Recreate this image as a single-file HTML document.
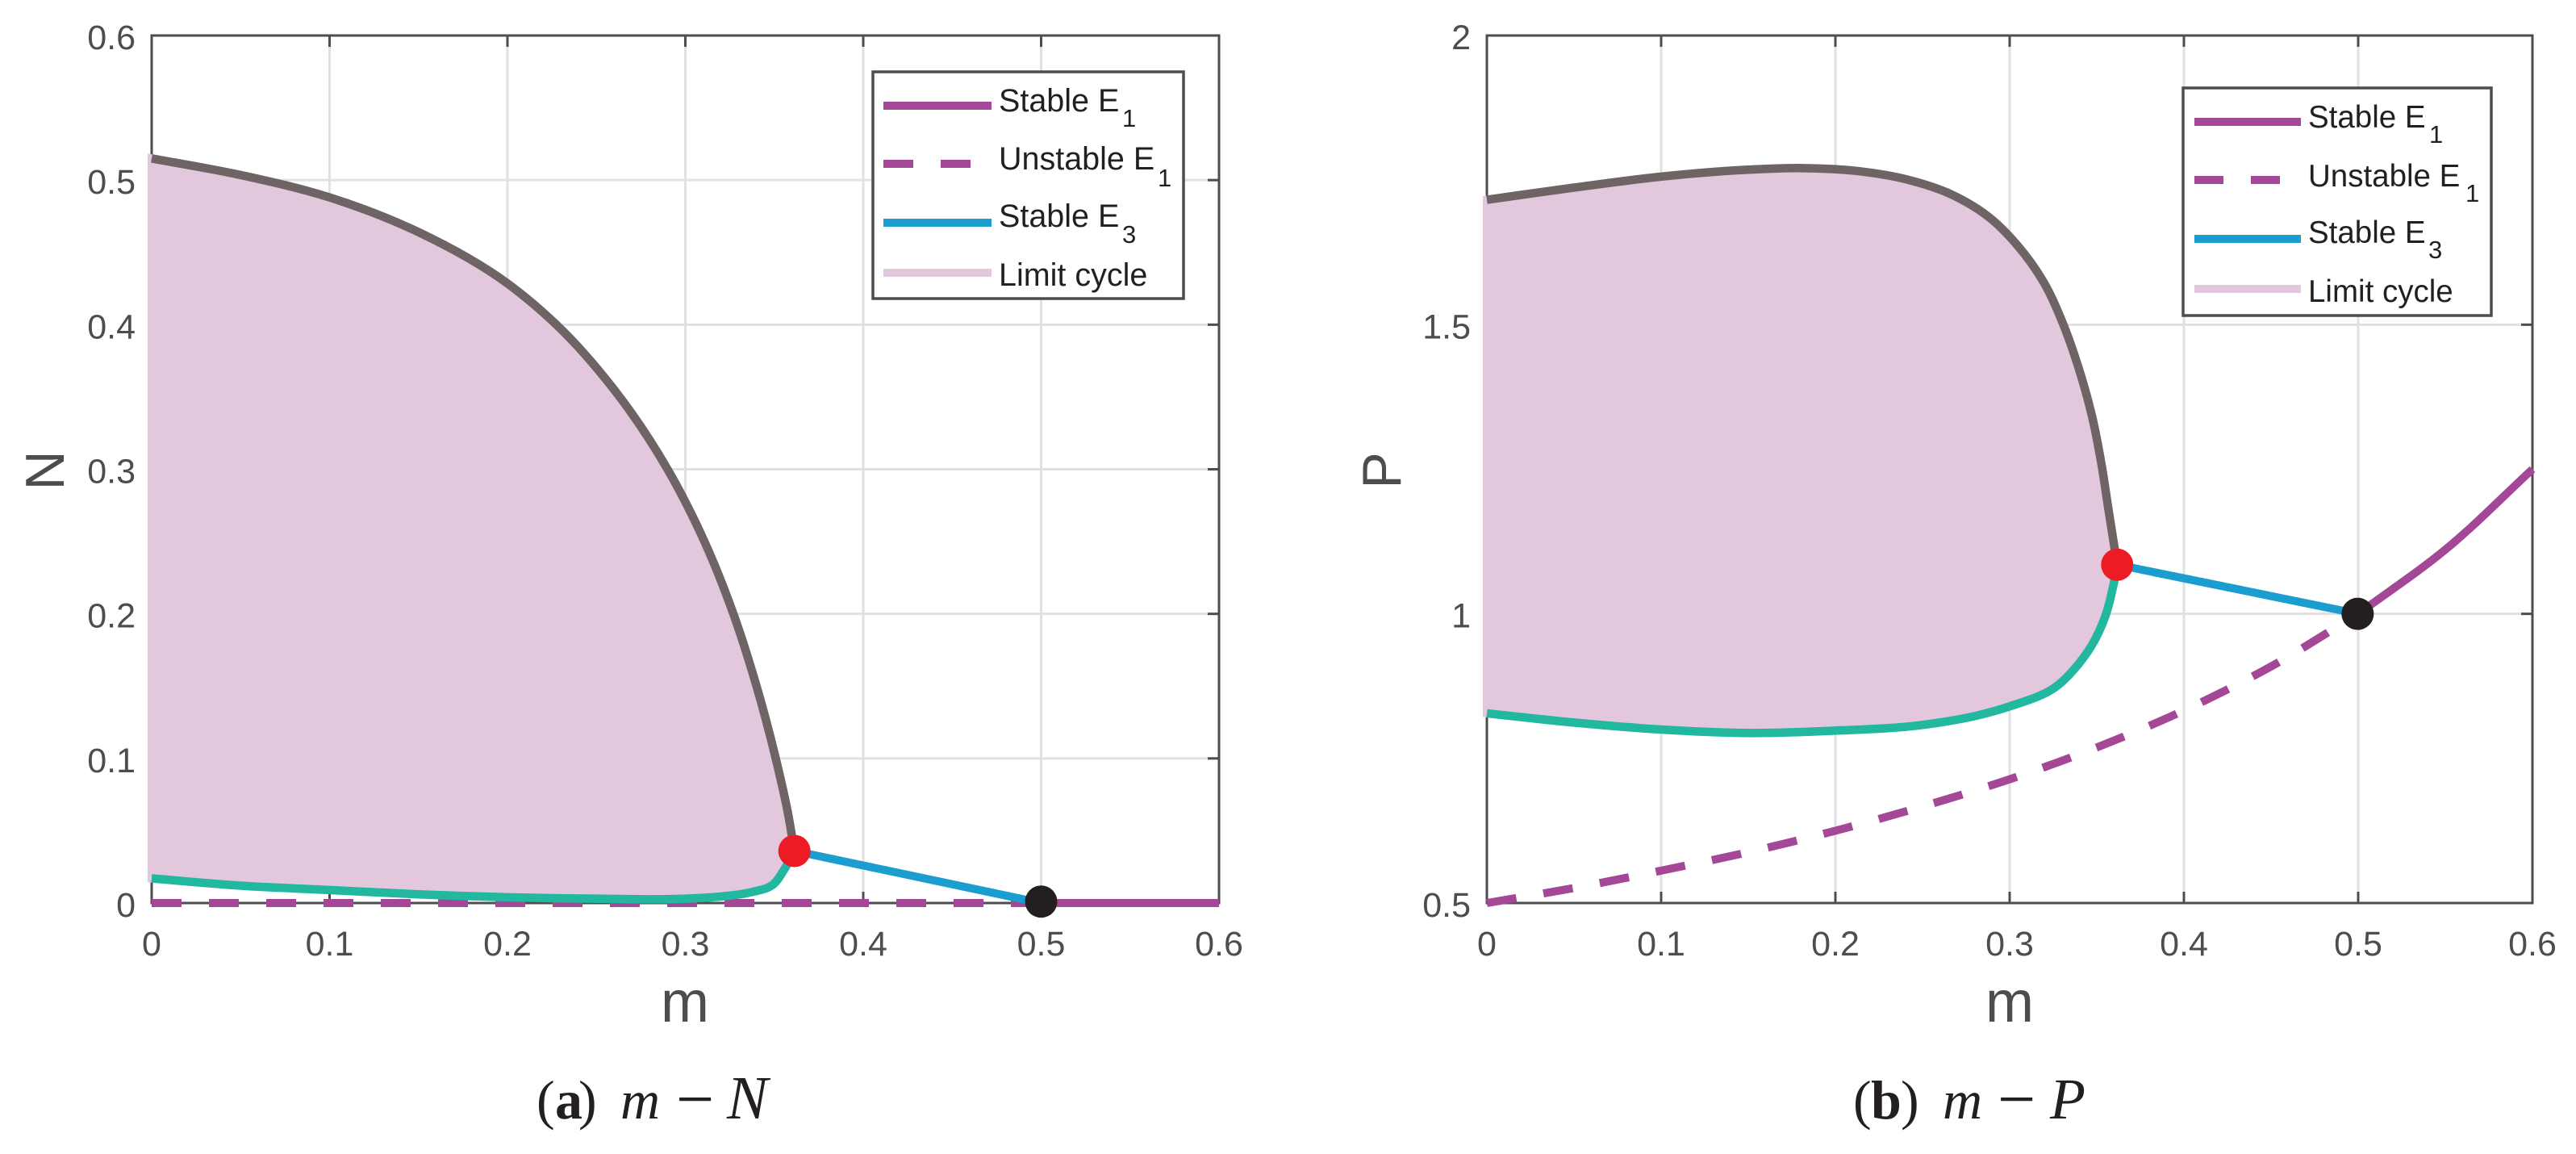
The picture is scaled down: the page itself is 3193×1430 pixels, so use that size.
<!DOCTYPE html>
<html lang="en">
<head>
<meta charset="utf-8">
<title>Bifurcation diagrams m-N and m-P</title>
<style>
html,body{margin:0;padding:0;background:#fff;}
svg{display:block;font-family:"Liberation Sans",Arial,sans-serif;}
.tick{font-size:43px;fill:#4d4d4f;}
.axl{font-size:72px;fill:#4d4d4f;}
.leg{font-size:39.5px;fill:#231f20;}
.sub{font-size:31px;}
.cap{font-family:"Liberation Serif",serif;font-size:68px;fill:#231f20;}
</style>
</head>
<body>
<svg id="fig" xmlns="http://www.w3.org/2000/svg" width="3193" height="1430" viewBox="0 0 3193 1430">
  <g id="panelA"></g>
  <g id="panelB"></g>

  <text class="axl" x="849" y="1266" text-anchor="middle">m</text>
  <text class="axl" transform="translate(79,583) rotate(-90)" text-anchor="middle" style="font-size:68px">N</text>
  <text class="axl" x="2491" y="1266" text-anchor="middle">m</text>
  <text class="axl" transform="translate(1736,583) rotate(-90)" text-anchor="middle" style="font-size:68px">P</text>

  <g>
    <rect x="1082" y="89" width="385" height="281" fill="#fff" stroke="#4d4d4f" stroke-width="3.5"/>
    <line x1="1095" x2="1229" y1="131" y2="131" stroke="#a34796" stroke-width="10"/>
    <line x1="1095" x2="1203" y1="203" y2="203" stroke="#a34796" stroke-width="10" stroke-dasharray="37 34"/>
    <line x1="1095" x2="1229" y1="276" y2="276" stroke="#1b9dd0" stroke-width="10"/>
    <line x1="1095" x2="1229" y1="338" y2="338" stroke="#e3c8dd" stroke-width="10"/>
    <text class="leg" x="1238" y="138">Stable E<tspan class="sub" x="1391" y="157">1</tspan></text>
    <text class="leg" x="1238" y="210">Unstable E<tspan class="sub" x="1435" y="231">1</tspan></text>
    <text class="leg" x="1238" y="281">Stable E<tspan class="sub" x="1391" y="301">3</tspan></text>
    <text class="leg" x="1238" y="354">Limit cycle</text>
  </g>

  <g>
    <rect x="2706" y="109" width="382" height="282" fill="#fff" stroke="#4d4d4f" stroke-width="3.5"/>
    <line x1="2720" x2="2852" y1="151" y2="151" stroke="#a34796" stroke-width="10"/>
    <line x1="2720" x2="2826" y1="223" y2="223" stroke="#a34796" stroke-width="10" stroke-dasharray="36 34"/>
    <line x1="2720" x2="2852" y1="296" y2="296" stroke="#1b9dd0" stroke-width="10"/>
    <line x1="2720" x2="2852" y1="358" y2="358" stroke="#e3c8dd" stroke-width="10"/>
    <text class="leg" x="2861" y="158" style="font-size:38.5px">Stable E<tspan class="sub" x="3011" y="177">1</tspan></text>
    <text class="leg" x="2861" y="231" style="font-size:38.5px">Unstable E<tspan class="sub" x="3056" y="250">1</tspan></text>
    <text class="leg" x="2861" y="301" style="font-size:38.5px">Stable E<tspan class="sub" x="3010" y="320">3</tspan></text>
    <text class="leg" x="2861" y="374" style="font-size:38.5px">Limit cycle</text>
  </g>

  <text class="cap" y="1386"><tspan x="665">(</tspan><tspan x="688" font-weight="bold">a</tspan><tspan x="717">)</tspan><tspan x="769" font-style="italic">m</tspan><tspan x="838" y="1390" font-size="84">−</tspan><tspan x="901" y="1386" font-style="italic" font-size="76">N</tspan></text>
  <text class="cap" y="1386"><tspan x="2297">(</tspan><tspan x="2319" font-weight="bold">b</tspan><tspan x="2356">)</tspan><tspan x="2408" font-style="italic">m</tspan><tspan x="2476" y="1390" font-size="84">−</tspan><tspan x="2541" y="1386" font-style="italic" font-size="72">P</tspan></text>
</svg>

<script>
// Shared axis ticks
const xTickValues = [0, 0.1, 0.2, 0.3, 0.4, 0.5, 0.6];
const xTickLabels = ['0', '0.1', '0.2', '0.3', '0.4', '0.5', '0.6'];
const yTickValuesN = [0, 0.1, 0.2, 0.3, 0.4, 0.5, 0.6];
const yTickLabelsN = ['0', '0.1', '0.2', '0.3', '0.4', '0.5', '0.6'];
const yTickValuesP = [0.5, 1, 1.5, 2];
const yTickLabelsP = ['0.5', '1', '1.5', '2'];

// Panel (a) m-N
const upperM_N = [0, 0.05, 0.1, 0.15, 0.2, 0.2275, 0.26, 0.29, 0.31, 0.327, 0.34, 0.3516, 0.3577, 0.3613];
const upperN = [0.515, 0.5035, 0.488, 0.464, 0.4285, 0.4, 0.355, 0.3, 0.252, 0.2, 0.15, 0.096, 0.062, 0.036];
const lowerM_N = [0, 0.05, 0.1, 0.15, 0.2, 0.25, 0.3, 0.32, 0.337, 0.349, 0.3555, 0.3613];
const lowerN = [0.017, 0.012, 0.009, 0.006, 0.004, 0.003, 0.003, 0.0045, 0.0075, 0.0125, 0.023, 0.036];
const e3M_N = [0.3613, 0.5];
const e3N = [0.036, 0];
const unstableM_N = [0, 0.5];
const unstableN = [0, 0];
const stableM_N = [0.5, 0.6];
const stableN = [0, 0];
const hopfN = [0.3613, 0.036];
const transN = [0.5, 0.001];

// Panel (b) m-P
const upperM_P = [0, 0.05, 0.1, 0.15, 0.1807, 0.2116, 0.2424, 0.2656, 0.2887, 0.3042, 0.3196, 0.3304, 0.3397, 0.3474, 0.3528, 0.3566, 0.3617];
const upperP = [1.716, 1.737, 1.756, 1.768, 1.7707, 1.766, 1.75, 1.7265, 1.6846, 1.638, 1.573, 1.5033, 1.424, 1.34, 1.2568, 1.1824, 1.085];
const lowerM_P = [0, 0.05, 0.1, 0.15, 0.2, 0.25, 0.281, 0.3, 0.327, 0.34, 0.347, 0.355, 0.3597, 0.3617];
const lowerP = [0.828, 0.812, 0.8, 0.794, 0.798, 0.808, 0.824, 0.84, 0.875, 0.915, 0.945, 0.997, 1.052, 1.085];
const e3M_P = [0.3617, 0.5];
const e3P = [1.085, 1];
const unstableM_P = [0, 0.05, 0.1, 0.15, 0.2, 0.25, 0.3, 0.35, 0.4, 0.45, 0.5];
const unstableP = [0.5, 0.526, 0.556, 0.588, 0.625, 0.667, 0.714, 0.769, 0.833, 0.909, 1];
const stableM_P = [0.5, 0.55, 0.6];
const stableP = [1, 1.111, 1.25];
const hopfP = [0.3617, 1.085];
const transP = [0.4997, 1];

const NS = 'http://www.w3.org/2000/svg';
const C = {axis:'#4d4d4f', grid:'#e1e1e3', purple:'#a34796', blue:'#1b9dd0', teal:'#22b8a0', gray:'#6e6464', fill:'#e3c8dd', red:'#ed1c24', black:'#231f20'};

function mk(tag, parent, attrs){
  const el = document.createElementNS(NS, tag);
  for (const k in attrs) el.setAttribute(k, attrs[k]);
  parent.appendChild(el);
  return el;
}
// Chord-length parameterised cubic spline through the data points
function smooth(xs, ys, X, Y){
  const p = xs.map((v,i)=>[X(v),Y(ys[i])]);
  const n = p.length;
  const dist = (a,b)=>Math.max(Math.hypot(b[0]-a[0],b[1]-a[1]),1e-6);
  const tan = p.map((pt,i)=>{
    if (n<3) return [(p[n-1][0]-p[0][0])/dist(p[0],p[n-1]),(p[n-1][1]-p[0][1])/dist(p[0],p[n-1])];
    if (i===0){const d=dist(p[0],p[1]);return [(p[1][0]-p[0][0])/d,(p[1][1]-p[0][1])/d];}
    if (i===n-1){const d=dist(p[n-2],p[n-1]);return [(p[n-1][0]-p[n-2][0])/d,(p[n-1][1]-p[n-2][1])/d];}
    const d0=dist(p[i-1],pt), d1=dist(pt,p[i+1]);
    return [0,1].map(k=>(((pt[k]-p[i-1][k])/d0)*d1+((p[i+1][k]-pt[k])/d1)*d0)/(d0+d1));
  });
  let d = 'M'+p[0][0].toFixed(2)+' '+p[0][1].toFixed(2);
  for (let i=0;i<n-1;i++){
    const h = dist(p[i],p[i+1])/3;
    d+=' C'+(p[i][0]+tan[i][0]*h).toFixed(2)+' '+(p[i][1]+tan[i][1]*h).toFixed(2)+' '+(p[i+1][0]-tan[i+1][0]*h).toFixed(2)+' '+(p[i+1][1]-tan[i+1][1]*h).toFixed(2)+' '+p[i+1][0].toFixed(2)+' '+p[i+1][1].toFixed(2);
  }
  return d;
}
function drawPanel(cfg){
  const g = document.getElementById(cfg.id);
  const X = v => cfg.left + (v - cfg.xMin) / (cfg.xMax - cfg.xMin) * (cfg.right - cfg.left);
  const Y = v => cfg.bottom - (v - cfg.yMin) / (cfg.yMax - cfg.yMin) * (cfg.bottom - cfg.top);

  xTickValues.forEach((v,i)=>{
    if (i>0 && i<xTickValues.length-1){
      const gl = mk('line', g, {x1:X(v),x2:X(v),y1:cfg.top,y2:cfg.bottom,stroke:C.grid,'stroke-width':3});
      
      
    }
  });
  cfg.yTicks.forEach((v,i)=>{
    if (i>0 && i<cfg.yTicks.length-1){
      const gl = mk('line', g, {x1:cfg.left,x2:cfg.right,y1:Y(v),y2:Y(v),stroke:C.grid,'stroke-width':3});
      
      
    }
  });

  const frame = mk('rect', g, {x:cfg.left,y:cfg.top,width:cfg.right-cfg.left,height:cfg.bottom-cfg.top,fill:'none',stroke:C.axis,'stroke-width':3});
  
  

  xTickValues.forEach((v,i)=>{
    const t1 = mk('line', g, {x1:X(v),x2:X(v),y1:cfg.bottom,y2:cfg.bottom-14,stroke:C.axis,'stroke-width':3});
    
    
    const t2 = mk('line', g, {x1:X(v),x2:X(v),y1:cfg.top,y2:cfg.top+14,stroke:C.axis,'stroke-width':3});
    
    
    const lab = mk('text', g, {x:X(v),y:1184,'text-anchor':'middle','class':'tick'});
    lab.textContent = xTickLabels[i];
    
    
  });
  cfg.yTicks.forEach((v,i)=>{
    const t1 = mk('line', g, {x1:cfg.left,x2:cfg.left+14,y1:Y(v),y2:Y(v),stroke:C.axis,'stroke-width':3});
    
    
    const t2 = mk('line', g, {x1:cfg.right,x2:cfg.right-14,y1:Y(v),y2:Y(v),stroke:C.axis,'stroke-width':3});
    
    
    const lab = mk('text', g, {x:cfg.left-20,y:Y(v)+17,'text-anchor':'end','class':'tick'});
    lab.textContent = cfg.yLabels[i];
    
    
  });

  // Limit-cycle band: upper branch forward, lower branch back
  const up = smooth(cfg.upM, cfg.upV, X, Y);
  const lo = smooth(cfg.loM.slice().reverse(), cfg.loV.slice().reverse(), X, Y).replace(/^M/, 'L');
  const band = mk('path', g, {d:up+' '+lo+' Z',fill:C.fill,stroke:C.fill,'stroke-width':10,'stroke-linejoin':'miter'});
  
  

  const uns = mk('path', g, {d:smooth(cfg.unsM,cfg.unsV,X,Y),fill:'none',stroke:C.purple,'stroke-width':10,'stroke-dasharray':'37 34'});
  
  

  const sta = mk('path', g, {d:smooth(cfg.staM,cfg.staV,X,Y),fill:'none',stroke:C.purple,'stroke-width':10});
  
  

  const e3 = mk('path', g, {d:smooth(cfg.e3M,cfg.e3V,X,Y),fill:'none',stroke:C.blue,'stroke-width':10});
  
  

  const loLine = mk('path', g, {d:smooth(cfg.loM,cfg.loV,X,Y),fill:'none',stroke:C.teal,'stroke-width':10.5});
  
  

  const upLine = mk('path', g, {d:up,fill:'none',stroke:C.gray,'stroke-width':10.5});
  
  

  const h = mk('circle', g, {cx:X(cfg.hopf[0]),cy:Y(cfg.hopf[1]),r:20,fill:C.red});
  
  

  const t = mk('circle', g, {cx:X(cfg.trans[0]),cy:Y(cfg.trans[1]),r:20,fill:C.black});
  
  
}

drawPanel({id:'panelA',left:188,right:1511,top:44,bottom:1119,xMin:0,xMax:0.6,yMin:0,yMax:0.6,
  yTicks:yTickValuesN,yLabels:yTickLabelsN,upM:upperM_N,upV:upperN,loM:lowerM_N,loV:lowerN,
  unsM:unstableM_N,unsV:unstableN,staM:stableM_N,staV:stableN,e3M:e3M_N,e3V:e3N,hopf:hopfN,trans:transN});
drawPanel({id:'panelB',left:1843,right:3139,top:44,bottom:1119,xMin:0,xMax:0.6,yMin:0.5,yMax:2,
  yTicks:yTickValuesP,yLabels:yTickLabelsP,upM:upperM_P,upV:upperP,loM:lowerM_P,loV:lowerP,
  unsM:unstableM_P,unsV:unstableP,staM:stableM_P,staV:stableP,e3M:e3M_P,e3V:e3P,hopf:hopfP,trans:transP});
</script>
</body>
</html>
